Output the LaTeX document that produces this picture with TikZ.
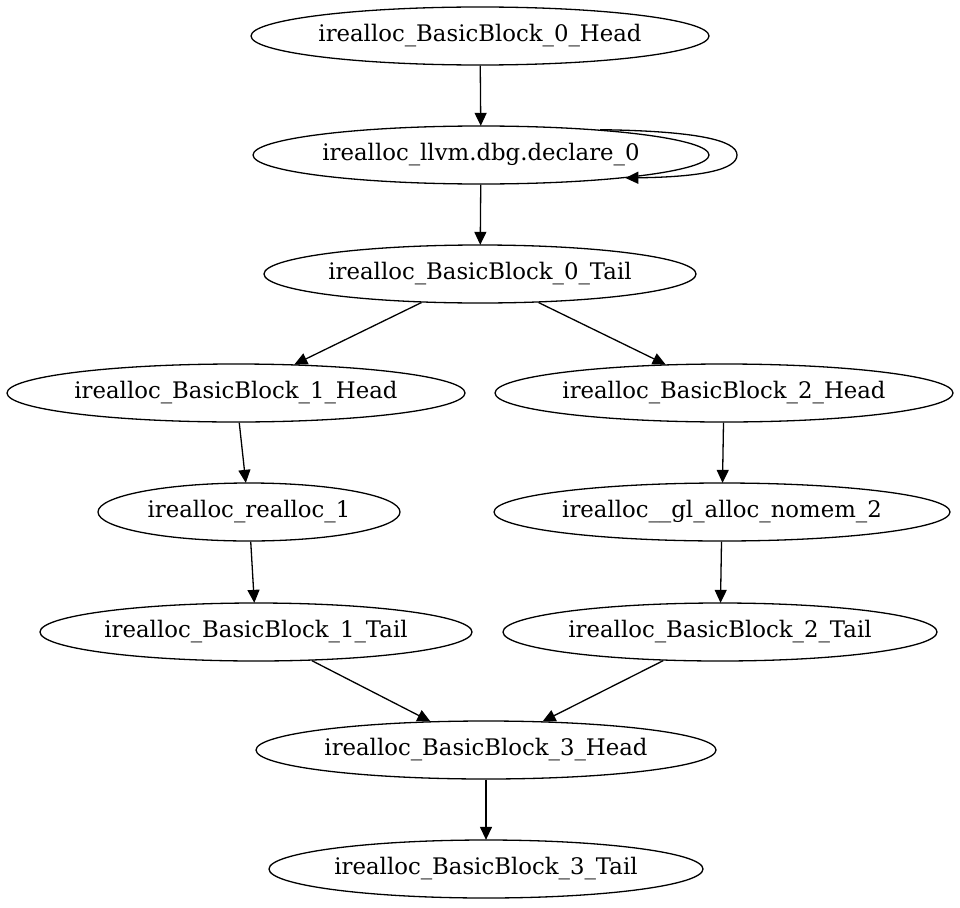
\documentclass[tikz,border=0pt]{standalone}
\usepackage{fontspec}
\setmainfont{DejaVu Serif}
\usetikzlibrary{shapes.geometric,arrows.meta}
\tikzset{
  bb/.style={draw, ellipse, inner sep=0pt, minimum height=58pt, line width=1.3pt,
    font=\fontsize{22.8}{26}\selectfont},
  edge/.style={line width=1.3pt, -{Triangle[length=13pt,width=12pt]}, shorten >=-0.5pt}
}
\begin{document}
\begin{tikzpicture}[x=1pt,y=-1pt]
\useasboundingbox (0,0) rectangle (960,907);
\node[bb, minimum width=458pt] (h0) at (480,36) {irealloc\_BasicBlock\_0\_Head};
\node[bb, minimum width=456pt] (dbg) at (481,155) {irealloc\_llvm.dbg.declare\_0};
\node[bb, minimum width=432pt] (t0) at (480,274) {irealloc\_BasicBlock\_0\_Tail};
\node[bb, minimum width=458pt] (h1) at (236,393) {irealloc\_BasicBlock\_1\_Head};
\node[bb, minimum width=458pt] (h2) at (724,393) {irealloc\_BasicBlock\_2\_Head};
\node[bb, minimum width=302pt] (r1) at (249,512) {irealloc\_realloc\_1};
\node[bb, minimum width=456pt] (g2) at (722,512) {irealloc\_\_gl\_alloc\_nomem\_2};
\node[bb, minimum width=432pt] (t1) at (256,632) {irealloc\_BasicBlock\_1\_Tail};
\node[bb, minimum width=434pt] (t2) at (720,632) {irealloc\_BasicBlock\_2\_Tail};
\node[bb, minimum width=460pt] (h3) at (486,750) {irealloc\_BasicBlock\_3\_Head};
\node[bb, minimum width=434pt] (t3) at (486,869) {irealloc\_BasicBlock\_3\_Tail};
\draw[edge] (h0) -- (dbg);
\draw[edge] (dbg.12) .. controls (695,131) and (737,140) .. (737,155)
  .. controls (737,170) and (700,177) .. (dbg.-9);
\draw[edge] (dbg) -- (t0);
\draw[edge] (t0) -- (h1);
\draw[edge] (t0) -- (h2);
\draw[edge] (h1) -- (r1);
\draw[edge] (h2) -- (g2);
\draw[edge] (r1) -- (t1);
\draw[edge] (g2) -- (t2);
\draw[edge] (t1) -- (h3);
\draw[edge] (t2) -- (h3);
\draw[edge] (h3) -- (t3);
\end{tikzpicture}
\end{document}
